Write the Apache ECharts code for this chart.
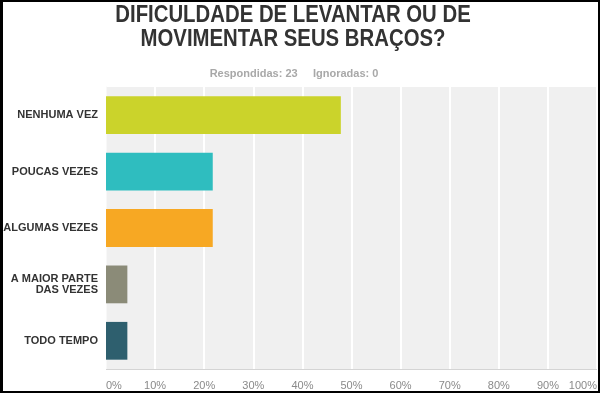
<!DOCTYPE html>
<html>
<head>
<meta charset="utf-8">
<script src="https://cdn.jsdelivr.net/npm/echarts@6/dist/echarts.min.js"></script>
<style>
html,body{margin:0;padding:0;background:#fff;}
#c{width:600px;height:393px;}
</style>
</head>
<body>
<div id="c"></div>
<script>
const titleLines = ["DIFICULDADE DE LEVANTAR OU DE", "MOVIMENTAR SEUS BRAÇOS?"];
const subtitleText = "Respondidas: 23     Ignoradas: 0";
const categories = ["NENHUMA VEZ", "POUCAS VEZES", "ALGUMAS VEZES", "A MAIOR PARTE\nDAS VEZES", "TODO TEMPO"];
const values = [47.83, 21.74, 21.74, 4.35, 4.35];
const barColors = ["#cbd32b", "#2fbdbf", "#f7a823", "#8b8b78", "#2e5f6e"];
const xTicks = [0, 10, 20, 30, 40, 50, 60, 70, 80, 90, 100];

const chart = echarts.init(document.getElementById('c'), null, {renderer: 'canvas'});
chart.setOption({
  animation: false,
  backgroundColor: '#ffffff',
  title: [{
    text: subtitleText,
    left: 289, top: 63, textAlign: 'center',
    textStyle: {fontFamily: 'Liberation Sans, Arial, sans-serif', fontSize: 11, fontWeight: 'bold', color: '#a8a8a8'}
  }],
  grid: {left: 106, right: 3, top: 87, bottom: 24, containLabel: false,
         show: true, backgroundColor: '#f0f0f0', borderWidth: 0},
  xAxis: {
    type: 'value', min: 0, max: 100, interval: 10,
    axisLine: {show: false},
    axisTick: {show: false},
    splitLine: {show: true, lineStyle: {color: '#ffffff', width: 2}},
    axisLabel: {
      formatter: v => xTicks.includes(v) ? v + '%' : '',
      color: '#8a8a8a', fontSize: 11, fontFamily: 'Liberation Sans, Arial, sans-serif',
      margin: 11, alignMinLabel: 'left', alignMaxLabel: 'right'
    }
  },
  yAxis: {
    type: 'category', data: categories, inverse: true,
    axisLine: {show: true, lineStyle: {color: '#f8f8f8', width: 1}},
    axisTick: {show: false},
    splitLine: {show: false},
    axisLabel: {
      color: '#333333', fontSize: 11, fontWeight: 'bold', fontFamily: 'Liberation Sans, Arial, sans-serif',
      margin: 8, lineHeight: 11, align: 'right'
    }
  },
  series: [{
    type: 'bar',
    data: values.map((v, i) => ({value: v, itemStyle: {color: barColors[i]}})),
    barCategoryGap: '33%',
    silent: true
  }],
  graphic: [{
    type: 'text', silent: true, z: 50,
    x: 293, y: 3, scaleX: 0.885, scaleY: 1,
    style: {
      text: titleLines.join('\n'), x: 0, y: 0, align: 'center', verticalAlign: 'top',
      font: 'bold 23px "Liberation Sans", Arial, sans-serif', lineHeight: 24.5, fill: '#333333'
    }
  }, {
    type: 'line', silent: true, z: 100,
    shape: {x1: 106, y1: 369.5, x2: 597, y2: 369.5},
    style: {stroke: '#d4d4d4', lineWidth: 1}
  }, {
    type: 'rect', silent: true, z: 200,
    shape: {x: 1, y: 1, width: 598, height: 391},
    style: {fill: 'none', stroke: '#000000', lineWidth: 2}
  }, {
    type: 'rect', silent: true, z: 200,
    shape: {x: 0, y: 0, width: 3, height: 393},
    style: {fill: '#000000'}
  }]
});
</script>
</body>
</html>
